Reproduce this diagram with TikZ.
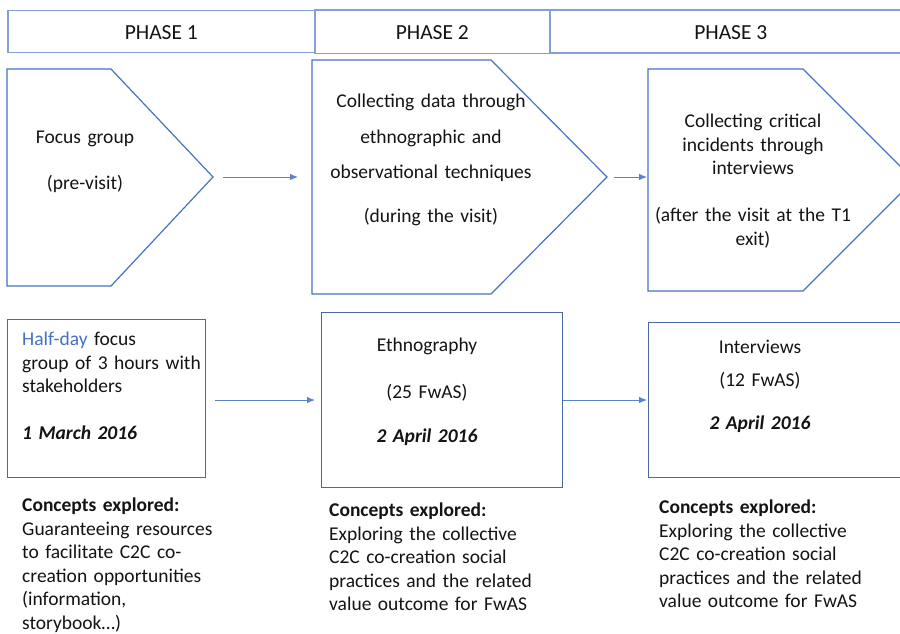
\documentclass[tikz,border=0pt]{standalone}
\usepackage{fontspec}
\setmainfont{Carlito}
\usetikzlibrary{arrows.meta}
\definecolor{lineblue}{RGB}{68,114,196}
\definecolor{boxblue}{RGB}{72,104,170}
\definecolor{headblue}{RGB}{132,160,214}
\definecolor{arrblue}{RGB}{90,130,205}
\definecolor{ink}{RGB}{20,20,20}
\begin{document}
\begin{tikzpicture}[x=1pt,y=-1pt,
  txt/.style={inner sep=0pt, font=\fontsize{19.5}{23.5}\selectfont, text=ink},
  ctxt/.style={txt, text width=280pt, align=center, anchor=base},
  ltxt/.style={txt, text width=280pt, align=left, anchor=base west},
  chev/.style={draw=lineblue, line width=1.2pt, line join=miter},
  hbox/.style={draw=headblue, line width=1.6pt, fill=white, anchor=north west, inner sep=0pt,
    font=\fontsize{21.5}{25}\selectfont, text=ink, text height=16pt, text depth=0pt},
  bbox/.style={draw=boxblue, line width=1.3pt, anchor=north west, inner sep=0pt},
  conn/.style={draw=arrblue, line width=0.9pt, -{Latex[length=8pt,width=6.5pt]}},
]
\clip (0,0) rectangle (900,633);
\fill[white] (0,0) rectangle (900,633);

% header
\node[hbox, minimum width=307pt, minimum height=42pt] (h1) at (7,9.5) {PHASE 1};
\node[hbox, minimum width=362pt, minimum height=43pt] (h3) at (549,9) {PHASE 3};
\node[hbox, minimum width=235pt, minimum height=43.5pt] (h2) at (314,9) {PHASE 2};

% chevrons
\draw[chev] (7,69) -- (111,69) -- (213,177) -- (111,286) -- (7,286) -- cycle;
\draw[chev] (312,60) -- (491,60) -- (607,177) -- (491,294) -- (312,294) -- cycle;
\draw[chev] (648,69) -- (803,69) -- (914,180) -- (803,291) -- (648,291) -- cycle;

\node[ctxt] (t1) at (85,143.5) {Focus group\\[22.5pt](pre-visit)};
\node[ctxt] (t2) at (431,107.5) {Collecting data through\\[12.5pt]ethnographic and\\[11.5pt]observational techniques\\[20.5pt](during the visit)};
\node[ctxt] (t3) at (753,127.5) {Collecting critical\\incidents through\\interviews\\[23.5pt](after the visit at the T1\\exit)};

\coordinate (a1s) at (223,177);
\coordinate (a1e) at (298,177);
\coordinate (a2s) at (614,177);
\coordinate (a2e) at (647,177);
\draw[conn] (a1s) -- (a1e);
\draw[conn] (a2s) -- (a2e);

% bottom boxes
\node[bbox, minimum width=198pt, minimum height=158pt] (b1) at (7,319) {};
\node[bbox, minimum width=241pt, minimum height=175pt] (b2) at (321,312) {};
\node[bbox, minimum width=300pt, minimum height=155pt] (b3) at (648,322) {};

\node[ltxt] (bt1) at (22,345.5) {\textcolor{lineblue}{Half-day} focus\\group of 3 hours with\\stakeholders\\[23.5pt]\textbf{\textit{1 March 2016}}};
\node[ctxt] (bt2) at (427,351.5) {Ethnography\\[23pt](25 FwAS)\\[20.5pt]\textbf{\textit{2 April 2016}}};
\node[ctxt] (bt3) at (760,353.5) {Interviews\\[9.5pt](12 FwAS)\\[19.5pt]\textbf{\textit{2 April 2016}}};

\coordinate (a3s) at (215,400);
\coordinate (a3e) at (315,400);
\coordinate (a4s) at (563,400);
\coordinate (a4e) at (647,400);
\draw[conn] (a3s) -- (a3e);
\draw[conn] (a4s) -- (a4e);

% concepts
\node[ltxt] (c1) at (22,511.5) {\textbf{Concepts explored:}\\Guaranteeing resources\\to facilitate C2C co-\\creation opportunities\\(information,\\storybook…)};
\node[ltxt] (c2) at (329,516.5) {\textbf{Concepts explored:}\\Exploring the collective\\C2C co-creation social\\practices and the related\\value outcome for FwAS};
\node[ltxt] (c3) at (659,513.5) {\textbf{Concepts explored:}\\Exploring the collective\\C2C co-creation social\\practices and the related\\value outcome for FwAS};
\end{tikzpicture}
\end{document}
